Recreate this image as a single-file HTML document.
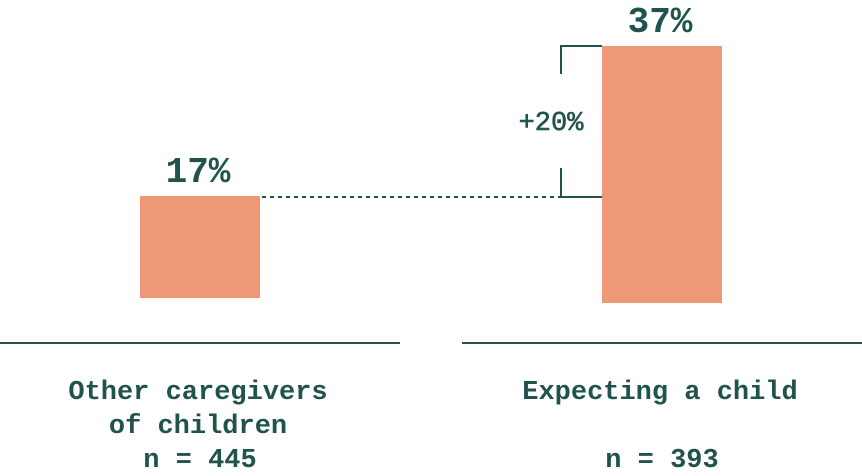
<!DOCTYPE html>
<html><head><meta charset="utf-8"><style>
html,body{margin:0;padding:0;background:#fff;}
svg{display:block;font-family:"Liberation Mono",monospace;font-weight:bold;}
</style></head><body>
<svg width="862" height="476" viewBox="0 0 862 476">
<g id="g"></g>
</svg>
<script>
const categories = ["Other caregivers|of children", "Expecting a child"];
const values = [17, 37];
const nLabels = ["n = 445", "n = 393"];
const diffLabel = "+20%";

const NS = "http://www.w3.org/2000/svg";
const g = document.getElementById('g');
const teal = "#21534d", bar = "#ef9877";
const centers = [200, 662];
const bottoms = [298, 303];
function yScale(v){ return 196 - (v - 17) * 7.5; }
function mk(tag, attrs, text){
  const e = document.createElementNS(NS, tag);
  for (const k in attrs) e.setAttribute(k, attrs[k]);
  if (text !== undefined) e.textContent = text;
  g.appendChild(e); return e;
}
values.forEach((v, i) => {
  const cx = centers[i], top = yScale(v);
  const r = mk('rect', {x: cx - 60, y: top, width: 120, height: bottoms[i] - top, fill: bar});
  
  
  const t = mk('text', {x: cx - 2, y: top - 14, 'text-anchor': 'middle', 'font-size': 36, fill: teal}, v + '%');
  
  
  const bx = i === 0 ? 0 : 462;
  const l = mk('line', {x1: bx, x2: bx + 400, y1: 343, y2: 343, stroke: teal, 'stroke-width': 2});
  
  
  const lines = categories[i].split('|');
  lines.forEach((s, j) => {
    const c = mk('text', {x: cx - 2, y: 399 + j * 34, 'text-anchor': 'middle', 'font-size': 27, fill: teal}, s);
    
    
  });
  const n = mk('text', {x: cx, y: 467, 'text-anchor': 'middle', 'font-size': 27, fill: teal}, nLabels[i]);
  
  
});
const y0 = yScale(values[0]), y1 = yScale(values[1]);
const d = mk('line', {x1: 262, x2: 561, y1: y0 + 1, y2: y0 + 1, stroke: teal, 'stroke-width': 2, 'stroke-dasharray': '4,4'});


const b = mk('path', {d: `M561 ${y1+28} V${y1} H602 M561 ${y0-28} V${y0+1} H602`, fill: 'none', stroke: teal, 'stroke-width': 2});


const dl = mk('text', {x: 551, y: (y0 + y1) / 2 + 9, 'text-anchor': 'middle', 'font-size': 27, 'font-weight': 'normal', 'stroke': teal, 'stroke-width': 0.6, fill: teal}, diffLabel);


</script>
</body></html>
